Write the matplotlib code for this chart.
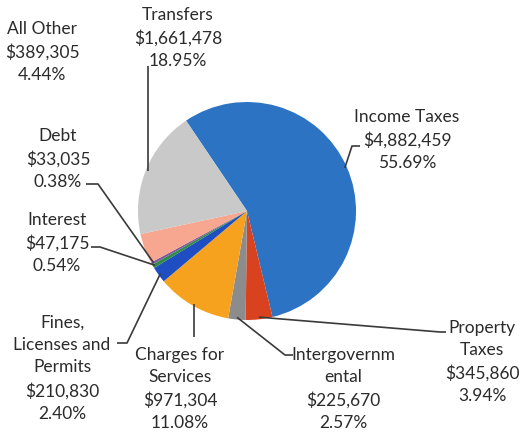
import numpy as np
import matplotlib
matplotlib.use("Agg")
import matplotlib.pyplot as plt

plt.rcParams['font.family'] = ['Lato', 'DejaVu Sans']

# Data
categories = ["Income Taxes", "Property Taxes", "Intergovernmental", "Charges for Services",
              "Fines, Licenses and Permits", "Interest", "Debt", "All Other", "Transfers"]
amounts = [4882459, 345860, 225670, 971304, 210830, 47175, 33035, 389305, 1661478]
percents = [55.69, 3.94, 2.57, 11.08, 2.40, 0.54, 0.38, 4.44, 18.95]
label_names = ["Income Taxes", "Property\nTaxes", "Intergovernm\nental", "Charges for\nServices",
               "Fines,\nLicenses and\nPermits", "Interest", "Debt", "All Other", "Transfers"]
colors = ["#2C73C3", "#D8421E", "#8C8C8C", "#F6A21F", "#1E4EC2", "#2E8C44", "#7B5A9E",
          "#F7A690", "#C9C9C9"]

W, H = 522, 435
CX, CY, R = 247, 212, 109   # pie centre / radius in image pixels
START = 124

fig = plt.figure(figsize=(W / 100, H / 100), dpi=100)
ax = fig.add_axes([0, 0, 1, 1])

ax.pie(amounts, center=(CX, H - CY), radius=R, startangle=START, counterclock=False,
       colors=colors, wedgeprops=dict(linewidth=0), frame=True)
ax.set_xlim(0, W)
ax.set_ylim(0, H)
ax.set_aspect('equal')
ax.axis('off')

# mid angles of wedges
fr = np.array(amounts) / sum(amounts)
ends = START - 360 * np.cumsum(fr)
mids = ends + 360 * fr / 2


def edge(i, r=0.98):
    a = np.deg2rad(mids[i])
    return CX + R * r * np.cos(a), CY - R * r * np.sin(a)


# label text centre (image coords) and leader knees
layout = {
    0: ((407, 140), [(352, 147), (360, 147)]),
    1: ((482, 362), [(440, 333), (446, 333)]),
    2: ((343, 389), [(285, 356), (293, 356)]),
    3: ((180, 389), None),
    4: ((62, 368), [(127, 344), (117, 344)]),
    5: ((57, 243), [(100, 248), (91, 248)]),
    6: ((58, 159), [(98, 185), (86, 185)]),
    7: ((42, 52), []),
    8: ((178, 38), None),
}

for i, ((tx, ty), knees) in layout.items():
    txt = f"{label_names[i]}\n${amounts[i]:,}\n{percents[i]:.2f}%"
    ax.text(tx, H - ty, txt, ha='center', va='center', multialignment='center',
            fontsize=12.5, color='#2b2b2b', linespacing=1.5)
    ex, ey = edge(i)
    if knees is None:
        # straight vertical leader
        endy = 338 if i == 3 else 67
        pts = [(ex, ey), (ex, endy)]
    elif len(knees) == 0:
        continue
    else:
        pts = [(ex, ey)] + knees
    xs = [p[0] for p in pts]
    ys = [H - p[1] for p in pts]
    ax.plot(xs, ys, color='#3a3a3a', lw=1.2, solid_capstyle='butt')

fig.savefig("out.png", dpi=100)
